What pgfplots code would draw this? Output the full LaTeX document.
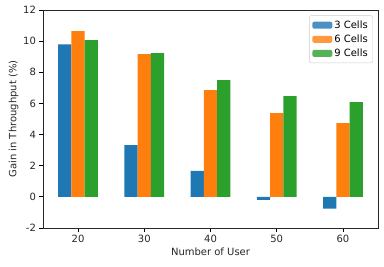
\documentclass[border=0pt]{standalone}
\usepackage{pgfplots}
\pgfplotsset{compat=1.18}
\usepackage{fontspec}
\setmainfont{DejaVu Sans}
\definecolor{c1}{HTML}{1F77B4}
\definecolor{c2}{HTML}{FF7F0E}
\definecolor{c3}{HTML}{2CA02C}
\begin{document}
\begin{tikzpicture}[x=1pt,y=1pt]
\path[use as bounding box] (0,0) rectangle (384,266);
\begin{axis}[
  at={(43pt,38pt)}, anchor=south west,
  scale only axis, width=335pt, height=218pt,
  xmin=14.7, xmax=65.3, ymin=-2, ymax=12,
  xtick={20,30,40,50,60}, ytick={-2,0,2,4,6,8,10,12},
  tick align=outside, tick pos=lower,
  major tick length=3.5pt,
  every tick/.style={black, line width=0.8pt},
  axis line style={line width=0.8pt, black!85},
  /pgf/number format/assume math mode=true,
  tick label style={font=\fontsize{10}{12}\selectfont, text=black!85},
  xlabel={Number of User}, ylabel={Gain in Throughput (\%)},
  label style={font=\fontsize{10}{12}\selectfont, text=black!85},
  xlabel style={yshift=2pt},
  ylabel style={yshift=-2pt},
  legend style={at={(0.985,0.975)}, anchor=north east, font=\fontsize{10}{12}\selectfont,
    draw=black!20, rounded corners=2pt, fill=white, fill opacity=0.8, text opacity=1,
    row sep=1pt, inner sep=3pt},
  legend cell align=left,
  legend image code/.code={\fill[#1] (0pt,-3.5pt) rectangle (20pt,3.5pt);},
]
\addplot[ybar, bar width=2, bar shift=-2, fill=c1, draw=none] coordinates {(20,9.8) (30,3.33) (40,1.67) (50,-0.2) (60,-0.75)};
\addlegendentry{3 Cells}
\addplot[ybar, bar width=2, bar shift=0, fill=c2, draw=none] coordinates {(20,10.64) (30,9.17) (40,6.86) (50,5.38) (60,4.74)};
\addlegendentry{6 Cells}
\addplot[ybar, bar width=2, bar shift=2, fill=c3, draw=none] coordinates {(20,10.06) (30,9.23) (40,7.5) (50,6.47) (60,6.09)};
\addlegendentry{9 Cells}
\end{axis}
\end{tikzpicture}
\end{document}
